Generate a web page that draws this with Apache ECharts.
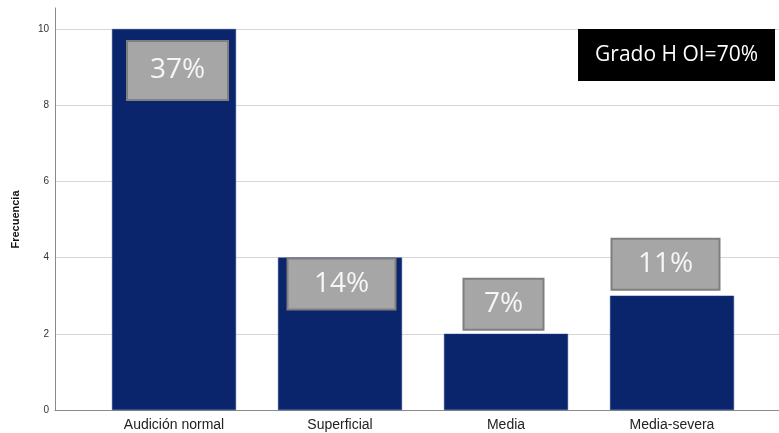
<!DOCTYPE html>
<html>
<head>
<meta charset="utf-8">
<script src="https://cdn.jsdelivr.net/npm/echarts@6/dist/echarts.min.js"></script>
<style>
  html, body { margin: 0; padding: 0; background: #fff; }
  #chart { width: 779px; height: 433px; }
</style>
</head>
<body>
<div id="chart"></div>
<script>
// Hearing-level categories and their counts
const categories = ['Audición normal', 'Superficial', 'Media', 'Media-severa'];
const counts = [10, 4, 2, 3];
const percentLabels = ['37%', '14%', '7%', '11%'];
const yTicks = [0, 2, 4, 6, 8, 10];
const boxNote = 'Grado H OI=70%';

// Placement of each grey percentage box relative to its bar
const boxLayout = [
  { position: 'insideTop', distance: 13, w: 99, h: 57, dx: 3.5 },
  { position: 'insideTop', distance: 2, w: 106, h: 49, dx: 1.5 },
  { position: 'top', distance: 5, w: 78, h: 49, dx: -2.5 },
  { position: 'top', distance: 7, w: 106, h: 49, dx: -6.5 }
];

const chart = echarts.init(document.getElementById('chart'), null, { renderer: 'canvas' });

const barData = counts.map((v, i) => {
  const b = boxLayout[i];
  return {
    value: v,
    label: {
      show: true,
      position: b.position,
      distance: b.distance,
      offset: [b.dx, 0],
      formatter: percentLabels[i],
      width: b.w,
      height: b.h,
      lineHeight: b.h,
      align: 'center',
      backgroundColor: '#a6a6a6',
      borderColor: '#7f7f7f',
      borderWidth: 2,
      color: '#f6f6f6',
      fontFamily: 'Open Sans',
      fontSize: 28
    }
  };
});

const option = {
  backgroundColor: '#ffffff',
  animation: false,
  title: {
    text: boxNote,
    right: 4,
    top: 29,
    backgroundColor: '#000000',
    padding: [13, 17, 13, 17],
    textStyle: {
      color: '#ffffff',
      fontFamily: 'Open Sans',
      fontWeight: 'normal',
      fontSize: 21,
      lineHeight: 26
    }
  },
  grid: [
    // frame: gridlines, y labels, bottom axis line
    { left: 55, right: 0, top: 29, bottom: 23 },
    // vertical axis line reaching slightly above the top gridline
    { left: 55, right: 0, top: 8, bottom: 23 },
    // bars
    { left: 91, right: 24, top: 29, bottom: 23 }
  ],
  xAxis: [
    {
      gridIndex: 0, type: 'value', min: 0, max: 1,
      axisLine: { show: true, lineStyle: { color: '#8a8a8a', width: 1 } },
      axisTick: { show: false }, axisLabel: { show: false }, splitLine: { show: false }
    },
    {
      gridIndex: 1, type: 'value', min: 0, max: 1, show: false
    },
    {
      gridIndex: 2, type: 'category', data: categories,
      axisLine: { show: false }, axisTick: { show: false }, splitLine: { show: false },
      axisLabel: {
        color: '#222', fontFamily: 'Liberation Sans, Arial, sans-serif', fontSize: 14, margin: 8
      }
    }
  ],
  yAxis: [
    {
      gridIndex: 0, type: 'value', min: yTicks[0], max: yTicks[yTicks.length - 1], interval: 2,
      name: 'Frecuencia', nameLocation: 'middle', nameGap: 34,
      nameTextStyle: {
        color: '#111', fontFamily: 'Liberation Sans, Arial, sans-serif', fontSize: 11, fontWeight: 'bold'
      },
      axisLine: { show: false }, axisTick: { show: false },
      axisLabel: {
        color: '#333', fontFamily: 'Liberation Sans, Arial, sans-serif', fontSize: 10, margin: 6
      },
      splitLine: { show: true, lineStyle: { color: '#d6d6d6', width: 1 } }
    },
    {
      gridIndex: 1, type: 'value', min: 0, max: 1,
      axisLine: { show: true, lineStyle: { color: '#8a8a8a', width: 1 } },
      axisTick: { show: false }, axisLabel: { show: false }, splitLine: { show: false }
    },
    {
      gridIndex: 2, type: 'value', min: yTicks[0], max: yTicks[yTicks.length - 1], show: false
    }
  ],
  series: [
    {
      type: 'bar',
      xAxisIndex: 2,
      yAxisIndex: 2,
      data: barData,
      barWidth: 124,
      itemStyle: { color: '#0a256b', borderColor: '#1c3a80', borderWidth: 0.5 },
      z: 3
    }
  ]
};

chart.setOption(option);
</script>
</body>
</html>
